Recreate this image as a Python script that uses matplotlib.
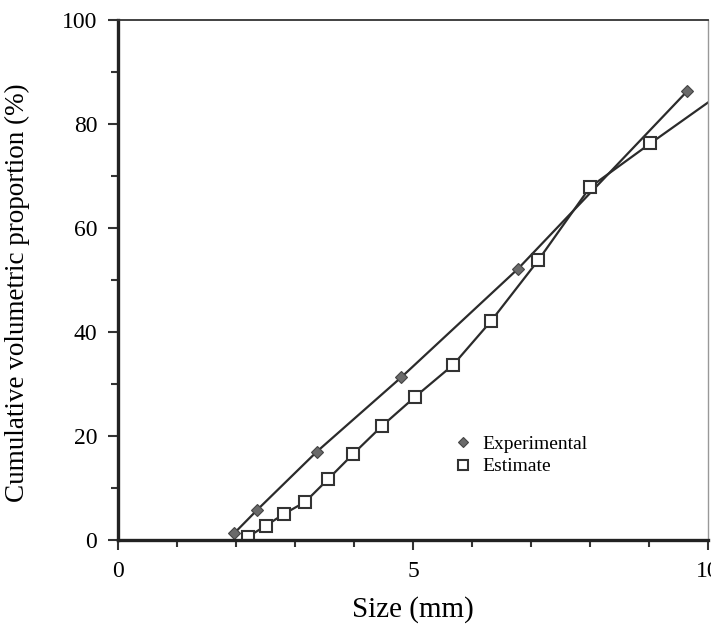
import numpy as np
import matplotlib
matplotlib.use("Agg")
import matplotlib.pyplot as plt
from matplotlib.ticker import MultipleLocator

# values
exp_size = [1.97, 2.36, 3.37, 4.8, 6.78, 9.64]
exp_prop = [1.3, 5.8, 17.0, 31.3, 52.2, 86.3]

est_size = [2.2, 2.5, 2.81, 3.17, 3.56, 3.98, 4.47, 5.03, 5.68, 6.32, 7.12, 8.0, 9.02, 10.05]
est_prop = [0.6, 2.7, 5.0, 7.3, 11.7, 16.5, 21.9, 27.5, 33.7, 42.1, 53.8, 67.9, 76.3, 84.6]
est_marked = 13  # last point only reaches the cropped edge

plt.rcParams["font.family"] = ["Liberation Serif", "DejaVu Serif"]

fig = plt.figure(figsize=(7.11, 6.33), dpi=100)
ax = fig.add_axes([0.166, 0.147, 0.830, 0.821])

line_col = "#2b2b2b"
ax.plot(exp_size, exp_prop, color=line_col, lw=1.6)
ax.plot(exp_size, exp_prop, "D", ms=6, color="#6a6a6a", mec="#444444", mew=0.8,
        label="Experimental")
ax.plot(est_size, est_prop, color=line_col, lw=1.6)
ax.plot(est_size[:est_marked], est_prop[:est_marked], "s", ms=8, mfc="white",
        mec="#333333", mew=1.5, label="Estimate")

ax.set_xlim(0, 10)
ax.set_ylim(0, 100)
ax.xaxis.set_major_locator(MultipleLocator(5))
ax.xaxis.set_minor_locator(MultipleLocator(1))
ax.yaxis.set_major_locator(MultipleLocator(20))
ax.yaxis.set_minor_locator(MultipleLocator(10))
ax.tick_params(which="both", direction="out", width=1.5, color="#333333",
               labelsize=17, pad=8)
ax.tick_params(which="major", length=7)
ax.tick_params(which="minor", length=5)

for side in ["left", "bottom"]:
    ax.spines[side].set_linewidth(2.4)
    ax.spines[side].set_color("#222222")
ax.spines["top"].set_linewidth(1.3)
ax.spines["top"].set_color("#333333")
ax.spines["right"].set_linewidth(1.0)
ax.spines["right"].set_color("#999999")

ax.set_xlabel("Size (mm)", fontsize=21, labelpad=10)
ax.set_ylabel("Cumulative volumetric proportion (%)", fontsize=19.5)
ax.yaxis.set_label_coords(-0.15, 0.475)

leg = ax.legend(loc="upper left", bbox_to_anchor=(0.535, 0.235), frameon=False,
                fontsize=14, handletextpad=0.4, labelspacing=0.25,
                handlelength=1.2, markerscale=0.85)

plt.savefig("out.png", dpi=100)
